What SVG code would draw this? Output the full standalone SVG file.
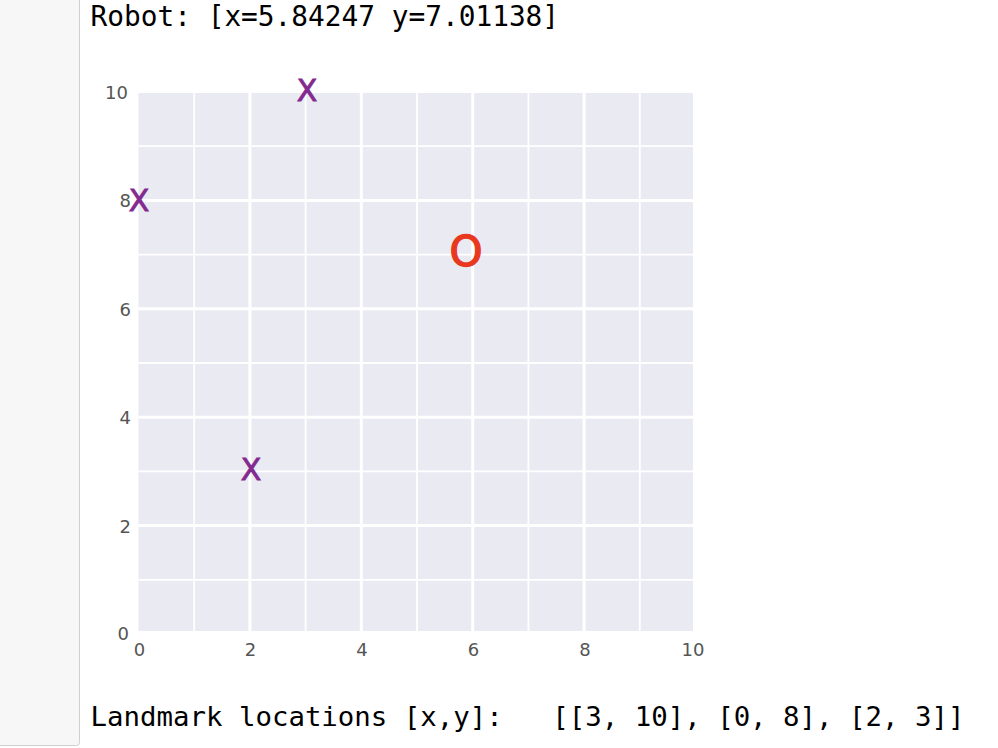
<svg xmlns="http://www.w3.org/2000/svg" width="998" height="748" viewBox="0 0 998 748">
<style>
.mono{font-family:"DejaVu Sans Mono","Liberation Mono",monospace;font-size:27.4px;fill:#000}
.tick{font-family:"DejaVu Sans","Liberation Sans",sans-serif;font-size:18px;fill:#555}
.maj{stroke:#fff;stroke-width:3}
.min{stroke:#fff;stroke-width:1.8}
.lm{font-family:"DejaVu Sans","Liberation Sans",sans-serif;font-size:30px;fill:#832a90;stroke:#832a90;stroke-width:0.9;text-anchor:middle}
.rb{font-family:"DejaVu Sans","Liberation Sans",sans-serif;font-size:42px;fill:#e8391e;stroke:#e8391e;stroke-width:1.4;text-anchor:middle}
</style>
<rect x="0" y="0" width="998" height="748" fill="#fff"/>
<g id="sidebar">
<rect x="-4" y="-4" width="83.5" height="749.5" rx="3" fill="#f7f7f7" stroke="#cfcfcf" stroke-width="1"/>
</g>
<g id="header">
<text class="mono" x="90.5" y="26" style="font-size:27.8px">Robot: [x=5.84247 y=7.01138]</text>
</g>
<g id="plot">
<rect x="138.5" y="93" width="554.5" height="538" fill="#eaeaf2"/>
<g id="grid">
<line class="min" x1="194.2" y1="93" x2="194.2" y2="631"/>
<line class="maj" x1="249.9" y1="93" x2="249.9" y2="631"/>
<line class="min" x1="305.6" y1="93" x2="305.6" y2="631"/>
<line class="maj" x1="361.3" y1="93" x2="361.3" y2="631"/>
<line class="min" x1="417" y1="93" x2="417" y2="631"/>
<line class="maj" x1="472.7" y1="93" x2="472.7" y2="631"/>
<line class="min" x1="528.4" y1="93" x2="528.4" y2="631"/>
<line class="maj" x1="584.1" y1="93" x2="584.1" y2="631"/>
<line class="min" x1="639.8" y1="93" x2="639.8" y2="631"/>
<line class="min" x1="138.5" y1="579.8" x2="693" y2="579.8"/>
<line class="maj" x1="138.5" y1="525.6" x2="693" y2="525.6"/>
<line class="min" x1="138.5" y1="471.4" x2="693" y2="471.4"/>
<line class="maj" x1="138.5" y1="417.2" x2="693" y2="417.2"/>
<line class="min" x1="138.5" y1="363" x2="693" y2="363"/>
<line class="maj" x1="138.5" y1="308.8" x2="693" y2="308.8"/>
<line class="min" x1="138.5" y1="254.6" x2="693" y2="254.6"/>
<line class="maj" x1="138.5" y1="200.4" x2="693" y2="200.4"/>
<line class="min" x1="138.5" y1="146.2" x2="693" y2="146.2"/>
</g>
<g id="xticks" class="tick" text-anchor="middle">
<text x="139.5" y="656">0</text>
<text x="250.5" y="656">2</text>
<text x="362" y="656">4</text>
<text x="473.5" y="656">6</text>
<text x="585" y="656">8</text>
<text x="693" y="656">10</text>
</g>
<g id="yticks" class="tick" text-anchor="end">
<text x="129" y="640">0</text>
<text x="131" y="532.5">2</text>
<text x="131" y="424">4</text>
<text x="131" y="315.5">6</text>
<text x="131" y="207">8</text>
<text x="128" y="98.5">10</text>
</g>
<g id="landmarks">
<text class="lm" x="307" y="101">X</text>
<text class="lm" x="139" y="211">X</text>
<text class="lm" x="251" y="480">X</text>
</g>
<g id="robot">
<text class="rb" x="466" y="266">O</text>
</g>
</g>
<g id="footer">
<text class="mono" x="90.5" y="726" xml:space="preserve">Landmark locations [x,y]:   [[3, 10], [0, 8], [2, 3]]</text>
</g>
</svg>
